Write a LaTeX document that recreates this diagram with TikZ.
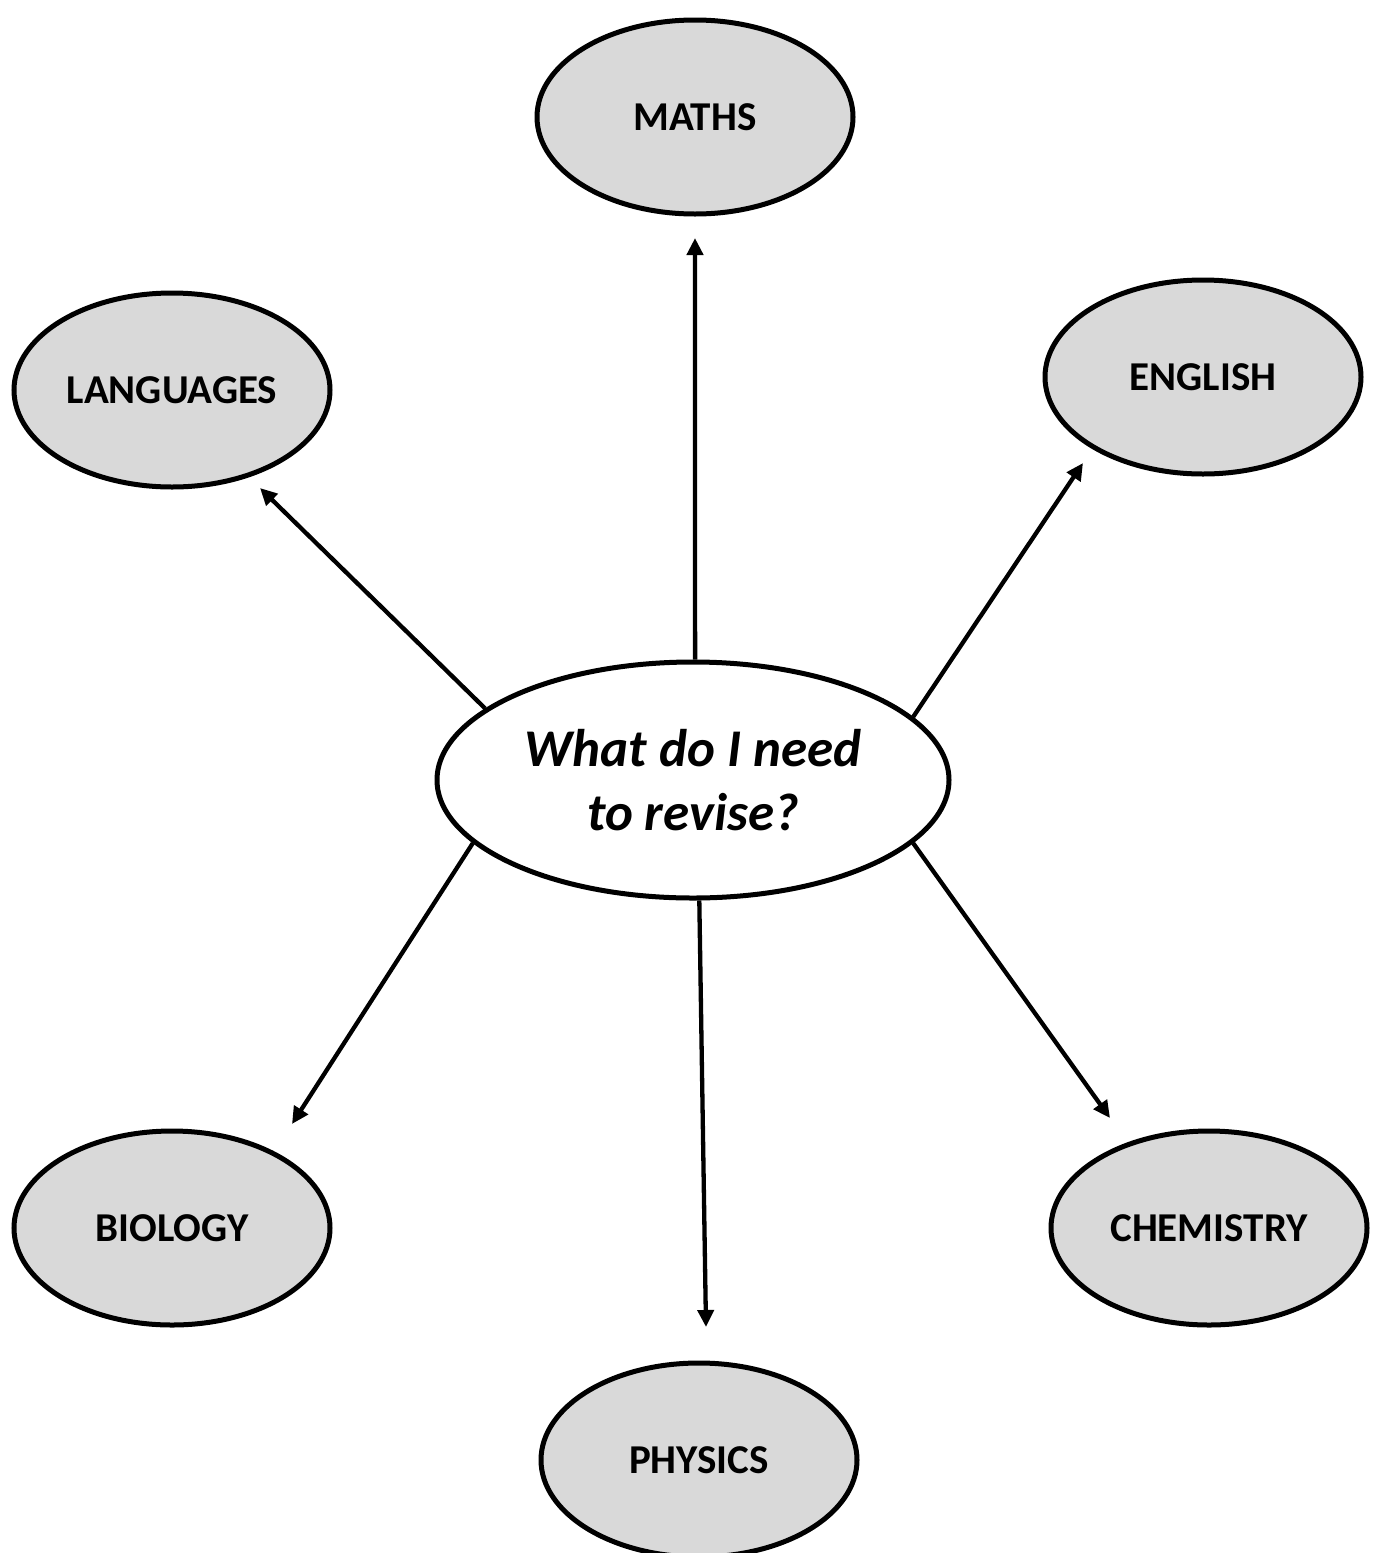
\documentclass[tikz,border=0pt]{standalone}
\usepackage{fontspec}
\setmainfont{Carlito}
\usetikzlibrary{positioning,shapes.geometric,arrows.meta}

\begin{document}
\begin{tikzpicture} [
	x=1pt,y=-1pt,
	text centered,
	nhub/.style={
		ellipse,draw=black,line width=5pt,fill=white,inner sep=0pt,
		minimum width=512pt,minimum height=236pt,align=center,
		font=\fontsize{53}{64}\selectfont\bfseries\itshape
	},
	nsubject/.style={
		ellipse,draw=black,line width=5pt,fill=black!15,inner sep=0pt,
		minimum width=316pt,minimum height=194pt,
		font=\fontsize{41}{49}\selectfont\bfseries
	},
	narrow/.style={
		line width=4.3pt,-{Triangle[length=17pt,width=16pt]}
	}
]
\useasboundingbox (0,0) rectangle (1381,1553);
\node [nhub]		(hub)		at (693,780)	{What do I need\\to revise?};
\node [nsubject]	(maths)		at (695,117)	{MATHS};
\node [nsubject]	(languages)	at (172,390)	{LANGUAGES};
\node [nsubject]	(english)	at (1203,377)	{ENGLISH};
\node [nsubject]	(biology)	at (172,1228)	{BIOLOGY};
\node [nsubject]	(chemistry)	at (1209,1228)	{CHEMISTRY};
\node [nsubject]	(physics)	at (699,1460)	{PHYSICS};
% arrow tips stop short of the subjects
\coordinate (tmaths)		at (695,238);
\coordinate (tlanguages)	at (260,488);
\coordinate (tenglish)		at (1083,463);
\coordinate (tbiology)		at (292,1124);
\coordinate (tphysics)		at (706,1327);
\coordinate (tchemistry)	at (1110,1118);
\draw [narrow]	(hub.89)	-- (tmaths);
\draw [narrow]	(hub.161)	-- (tlanguages);
\draw [narrow]	(hub.16)	-- (tenglish);
\draw [narrow]	(hub.196)	-- (tbiology);
\draw [narrow]	(hub.273)	-- (tphysics);
\draw [narrow]	(hub.344)	-- (tchemistry);
\end{tikzpicture}
\end{document}
